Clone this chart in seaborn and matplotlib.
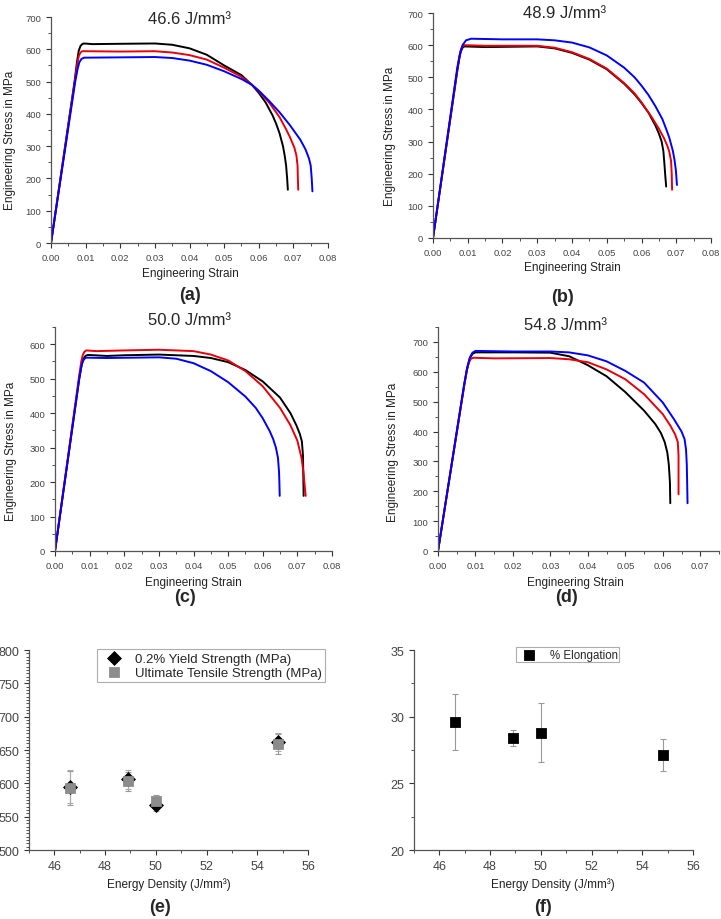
import numpy as np
import pandas as pd
import matplotlib
matplotlib.use("Agg")
import matplotlib.pyplot as plt
from matplotlib.ticker import MultipleLocator
import seaborn as sns

# stress-strain curves: (strain, stress MPa)
curve_a_black = [(0, 0), (0.0068, 500), (0.0075, 560), (0.008, 595), (0.0085, 610), (0.009, 616),
                 (0.0095, 618), (0.012, 616), (0.02, 617), (0.03, 618), (0.035, 614), (0.04, 603),
                 (0.045, 583), (0.05, 550), (0.055, 520), (0.058, 490), (0.06, 465), (0.062, 435),
                 (0.064, 395), (0.065, 370), (0.066, 340), (0.067, 300), (0.0675, 270),
                 (0.0679, 240), (0.0682, 200), (0.0684, 165)]
curve_a_red = [(0, 0), (0.007, 510), (0.0076, 555), (0.008, 578), (0.0085, 590), (0.009, 594),
               (0.01, 594), (0.02, 593), (0.03, 594), (0.035, 590), (0.04, 582), (0.045, 568),
               (0.05, 543), (0.055, 515), (0.058, 490), (0.06, 470), (0.063, 435), (0.066, 390),
               (0.068, 350), (0.069, 328), (0.0703, 295), (0.0709, 270), (0.0712, 240),
               (0.0713, 200), (0.0714, 165)]
curve_a_blue = [(0, 0), (0.007, 500), (0.0077, 540), (0.0082, 560), (0.0088, 570), (0.0095, 574),
                (0.02, 575), (0.03, 576), (0.035, 573), (0.04, 565), (0.045, 552), (0.05, 532),
                (0.055, 508), (0.058, 490), (0.06, 472), (0.063, 440), (0.066, 405),
                (0.069, 365), (0.072, 320), (0.0735, 290), (0.0745, 262), (0.075, 240),
                (0.0753, 200), (0.0755, 160)]

curve_b_black = [(0, 0), (0.007, 520), (0.0076, 560), (0.008, 580), (0.0085, 592), (0.009, 596),
                 (0.015, 594), (0.03, 596), (0.035, 590), (0.04, 576), (0.045, 555), (0.05, 525),
                 (0.055, 480), (0.058, 447), (0.06, 420), (0.062, 390), (0.064, 350),
                 (0.065, 325), (0.0658, 300), (0.0663, 270), (0.0666, 230), (0.0668, 200),
                 (0.0671, 160)]
curve_b_red = [(0, 0), (0.007, 525), (0.0076, 565), (0.008, 585), (0.0085, 596), (0.009, 600),
               (0.015, 598), (0.03, 598), (0.035, 592), (0.04, 578), (0.045, 557), (0.05, 527),
               (0.055, 482), (0.058, 450), (0.06, 422), (0.063, 375), (0.065, 340),
               (0.0665, 310), (0.0675, 285), (0.068, 268), (0.0685, 240), (0.0687, 200),
               (0.0688, 150)]
curve_b_blue = [(0, 0), (0.007, 530), (0.0078, 575), (0.0085, 600), (0.0095, 615), (0.011, 620),
                (0.02, 618), (0.03, 618), (0.035, 615), (0.04, 608), (0.045, 593), (0.05, 568),
                (0.055, 530), (0.058, 500), (0.06, 474), (0.062, 445), (0.064, 410),
                (0.066, 370), (0.067, 342), (0.068, 312), (0.069, 272), (0.0695, 243),
                (0.0699, 210), (0.0702, 165)]

curve_c_black = [(0, 0), (0.007, 500), (0.0077, 540), (0.0082, 558), (0.0088, 566),
                 (0.0095, 569), (0.015, 566), (0.02, 568), (0.03, 570), (0.04, 566), (0.045, 560),
                 (0.05, 548), (0.055, 525), (0.06, 492), (0.065, 445), (0.068, 400),
                 (0.0697, 365), (0.0707, 340), (0.0713, 318), (0.0716, 280), (0.0717, 230),
                 (0.0718, 160)]
curve_c_red = [(0, 0), (0.007, 510), (0.0076, 550), (0.008, 568), (0.0085, 578), (0.009, 582),
               (0.012, 580), (0.02, 582), (0.03, 584), (0.04, 580), (0.045, 570), (0.05, 553),
               (0.055, 522), (0.06, 478), (0.065, 415), (0.068, 365), (0.07, 320),
               (0.0712, 270), (0.0718, 225), (0.0721, 190), (0.0724, 160)]
curve_c_blue = [(0, 0), (0.007, 500), (0.0076, 535), (0.008, 550), (0.0085, 558), (0.009, 561),
                (0.015, 560), (0.03, 562), (0.035, 558), (0.04, 545), (0.045, 522), (0.05, 490),
                (0.055, 448), (0.058, 415), (0.06, 385), (0.062, 348), (0.063, 325),
                (0.0638, 300), (0.0644, 270), (0.0647, 230), (0.0648, 200), (0.0649, 160)]

curve_d_black = [(0, 0), (0.007, 555), (0.0077, 605), (0.0085, 645), (0.0092, 660), (0.01, 665),
                 (0.02, 665), (0.03, 664), (0.035, 652), (0.04, 622), (0.045, 585), (0.05, 532),
                 (0.055, 470), (0.058, 425), (0.0595, 395), (0.0605, 365), (0.0612, 330),
                 (0.0616, 290), (0.0619, 230), (0.062, 160)]
curve_d_red = [(0, 0), (0.007, 555), (0.0077, 605), (0.0082, 630), (0.0088, 644), (0.0095, 647),
               (0.015, 645), (0.03, 646), (0.035, 642), (0.04, 632), (0.045, 608), (0.05, 575),
               (0.055, 525), (0.06, 458), (0.062, 420), (0.0633, 390), (0.064, 365),
               (0.0642, 320), (0.0642, 190)]
curve_d_blue = [(0, 0), (0.007, 560), (0.0078, 615), (0.0085, 648), (0.0092, 664), (0.01, 670),
                (0.02, 668), (0.03, 668), (0.035, 665), (0.04, 655), (0.045, 635), (0.05, 603),
                (0.055, 564), (0.06, 497), (0.063, 441), (0.065, 400), (0.0658, 375),
                (0.0662, 340), (0.0664, 290), (0.0665, 230), (0.0666, 160)]

titles = ["46.6 J/mm³", "48.9 J/mm³", "50.0 J/mm³", "54.8 J/mm³"]
panel_letters = ["(a)", "(b)", "(c)", "(d)", "(e)", "(f)"]

# summary data
energy = [46.6, 48.9, 50.0, 54.8]
yield_strength = [595, 606, 568, 662]
yield_err = [25, 14, 10, 14]
uts = [593, 603, 573, 659]
uts_err = [25, 14, 10, 15]
elongation = [29.6, 28.4, 28.8, 27.15]
elongation_err = [2.1, 0.6, 2.2, 1.2]

sns.set_style("ticks")
plt.rcParams['font.family'] = ['Liberation Sans', 'DejaVu Sans']

W, H = 721, 920
fig = plt.figure(figsize=(W / 100, H / 100), dpi=100)


def rect(left, top, right, bottom):
    return [left / W, 1 - bottom / H, (right - left) / W, (bottom - top) / H]


def ftext(x, y, s, **kw):
    fig.text(x / W, 1 - y / H, s, ha="center", va="center", **kw)


def style_axis(ax, tick_size=6.8):
    sns.despine(ax=ax)
    ax.tick_params(which="both", direction="out", labelsize=tick_size, colors="#333333",
                   labelcolor="#444444")
    ax.tick_params(which="major", length=3.5, width=0.8)
    ax.tick_params(which="minor", length=2, width=0.6)
    for sp in ["left", "bottom"]:
        ax.spines[sp].set_color("#555555")
        ax.spines[sp].set_linewidth(0.9)


panels = [
    (rect(51, 18, 328, 244), [curve_a_black, curve_a_red, curve_a_blue], 0.08, 700, 700),
    (rect(433, 14, 711, 239), [curve_b_black, curve_b_red, curve_b_blue], 0.08, 700, 700),
    (rect(55, 328, 332, 552), [curve_c_black, curve_c_red, curve_c_blue], 0.08, 650, 600),
    (rect(438, 328, 719, 552), [curve_d_black, curve_d_red, curve_d_blue], 0.075, 750, 700),
]
colors = ["black", "#e8000b", "#0000ff"]

for (r, curves, xmax, ymax, ytop), title in zip(panels, titles):
    ax = fig.add_axes(r)
    for c, col in zip(curves, colors):
        df = pd.DataFrame(c, columns=["strain", "stress"])
        sns.lineplot(data=df, x="strain", y="stress", sort=False, estimator=None,
                     color=col, lw=1.4, ax=ax)
    ax.set_xlim(0, xmax)
    ax.set_ylim(0, ymax)
    ax.set_xticks(np.arange(0, min(xmax, 0.08) + 1e-9, 0.01))
    ax.set_xticklabels([f"{v:.2f}" for v in ax.get_xticks()])
    ax.set_yticks(np.arange(0, ytop + 1, 100))
    ax.xaxis.set_minor_locator(MultipleLocator(0.005))
    ax.yaxis.set_minor_locator(MultipleLocator(50))
    ax.set_xlabel("")
    ax.set_ylabel("")
    style_axis(ax)

# titles, axis labels and panel letters
ftext(190, 19, titles[0], fontsize=12)
ftext(565, 13, titles[1], fontsize=12)
ftext(190, 321, titles[2], fontsize=12)
ftext(565, 325, titles[3], fontsize=12)
for x, y in [(190, 274), (572, 268), (193, 583), (575, 583)]:
    ftext(x, y, "Engineering Strain", fontsize=8.5, color="#222222")
for x, y in [(10, 140), (390, 136), (11, 451), (393, 452)]:
    ftext(x, y, "Engineering Stress in MPa", fontsize=8.5, rotation=90, color="#222222")
letter_pos = [(190, 296), (563, 297), (185, 598), (567, 598), (160, 908), (543, 908)]
for (x, y), s in zip(letter_pos, panel_letters):
    ftext(x, y, s, fontsize=13, fontweight="bold")

# (e) strength vs energy density
ax_e = fig.add_axes(rect(29, 651, 308, 851))
ax_e.errorbar(energy, uts, yerr=uts_err, fmt="none", ecolor="#999999", elinewidth=0.8,
              capsize=2, capthick=0.8)
ax_e.errorbar(energy, yield_strength, yerr=yield_err, fmt="none", ecolor="#aaaaaa",
              elinewidth=0.8, capsize=2, capthick=0.8)
sns.scatterplot(x=energy, y=yield_strength, marker="D", color="black", s=50,
                edgecolor="black", label="0.2% Yield Strength (MPa)", ax=ax_e, zorder=3)
sns.scatterplot(x=energy, y=uts, marker="s", color="#8c8c8c", s=50, edgecolor="#8c8c8c",
                label="Ultimate Tensile Strength (MPa)", ax=ax_e, zorder=4)
ax_e.set_xlim(45, 56)
ax_e.set_ylim(500, 800)
ax_e.set_xticks([46, 48, 50, 52, 54, 56])
ax_e.set_yticks(np.arange(500, 801, 50))
ax_e.xaxis.set_minor_locator(MultipleLocator(1))
ax_e.yaxis.set_minor_locator(MultipleLocator(5))
style_axis(ax_e, tick_size=9)
ax_e.set_xlabel("")
leg = ax_e.legend(loc="upper right", fontsize=9.5, frameon=True, fancybox=False,
                  edgecolor="#999999", borderpad=0.25, handletextpad=0.6, labelspacing=0.15,
                  bbox_to_anchor=(1.061, 1.005), borderaxespad=0)
leg.get_frame().set_linewidth(0.8)
ftext(169, 885, "Energy Density (J/mm³)", fontsize=8.5, color="#222222")

# (f) elongation vs energy density
ax_f = fig.add_axes(rect(414, 651, 693, 851))
ax_f.errorbar(energy, elongation, yerr=elongation_err, fmt="none", ecolor="#999999",
              elinewidth=0.8, capsize=2, capthick=0.8)
sns.scatterplot(x=energy, y=elongation, marker="s", color="black", s=55, edgecolor="black",
                label="% Elongation", ax=ax_f, zorder=3)
ax_f.set_xlim(45, 56)
ax_f.set_ylim(20, 35)
ax_f.set_xticks([46, 48, 50, 52, 54, 56])
ax_f.set_yticks([20, 25, 30, 35])
ax_f.xaxis.set_minor_locator(MultipleLocator(1))
ax_f.yaxis.set_minor_locator(MultipleLocator(2.5))
style_axis(ax_f, tick_size=9)
ax_f.set_xlabel("")
leg = ax_f.legend(loc="upper center", fontsize=8.3, frameon=True, fancybox=False,
                  edgecolor="#999999", borderpad=0.15, handletextpad=0.8,
                  bbox_to_anchor=(0.55, 1.015), borderaxespad=0, markerscale=0.9)
leg.get_frame().set_linewidth(0.8)
ftext(553, 885, "Energy Density (J/mm³)", fontsize=8.5, color="#222222")

fig.savefig("out.png", dpi=100)
